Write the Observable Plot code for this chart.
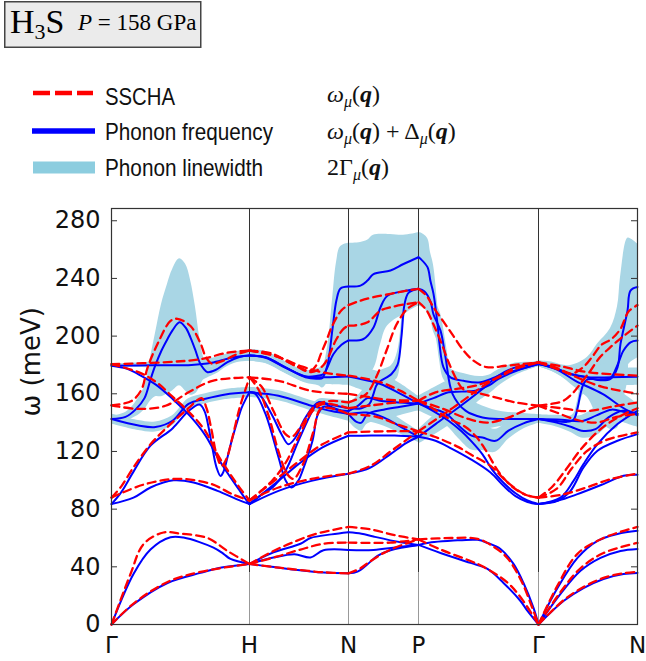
<!DOCTYPE html>
<html><head><meta charset="utf-8">
<script src="https://cdn.jsdelivr.net/npm/d3@7"></script>
<script src="https://cdn.jsdelivr.net/npm/@observablehq/plot@0.6"></script>
<style>
body{margin:0;background:#fff;}
#wrap{position:relative;width:646px;height:661px;overflow:hidden;background:#fff;}
#head{position:absolute;left:0;top:0;}
#chart{position:absolute;left:0;top:190px;}
</style></head>
<body><div id="wrap">
<svg id="head" width="646" height="190" xmlns="http://www.w3.org/2000/svg">
  <rect x="4.75" y="1.75" width="196" height="45.5" fill="#ebebeb" stroke="#444" stroke-width="1.5"/>
  <text x="10" y="33" font-family="Liberation Serif, serif" font-size="34">H<tspan font-size="22" dy="6">3</tspan><tspan dy="-6">S</tspan></text>
  <text x="78" y="30" font-family="Liberation Serif, serif" font-size="23"><tspan font-style="italic">P</tspan> = 158 GPa</text>
  <line x1="33" x2="93" y1="93" y2="93" stroke="#ff0000" stroke-width="4.5" stroke-dasharray="17,5"/>
  <line x1="32" x2="95" y1="131" y2="131" stroke="#0000ff" stroke-width="5.5"/>
  <rect x="33" y="161.5" width="62" height="12" fill="#8ccddf"/>
  <g font-family="Liberation Sans, Arial, sans-serif" font-size="24" fill="#111">
    <text x="105" y="105" textLength="70" lengthAdjust="spacingAndGlyphs">SSCHA</text>
    <text x="105" y="139.5" textLength="168" lengthAdjust="spacingAndGlyphs">Phonon frequency</text>
    <text x="105" y="176" textLength="158" lengthAdjust="spacingAndGlyphs">Phonon linewidth</text>
  </g>
  <g font-family="Liberation Serif, serif" font-size="24" fill="#111">
    <text x="327" y="102"><tspan font-style="italic">ω</tspan><tspan font-style="italic" font-size="16" dy="5">μ</tspan><tspan dy="-5">(</tspan><tspan font-style="italic" font-weight="bold">q</tspan>)</text>
    <text x="327" y="139"><tspan font-style="italic">ω</tspan><tspan font-style="italic" font-size="16" dy="5">μ</tspan><tspan dy="-5">(</tspan><tspan font-style="italic" font-weight="bold">q</tspan>) + Δ<tspan font-style="italic" font-size="16" dy="5">μ</tspan><tspan dy="-5">(</tspan><tspan font-style="italic" font-weight="bold">q</tspan>)</text>
    <text x="327" y="175">2Γ<tspan font-style="italic" font-size="16" dy="5">μ</tspan><tspan dy="-5">(</tspan><tspan font-style="italic" font-weight="bold">q</tspan>)</text>
  </g>
</svg>
<div id="chart"></div>
</div>
<script>
// high-symmetry points along the path (arbitrary path units)
const symX = [0, 138, 237, 307, 427, 526];
const symLabels = ["Γ", "H", "N", "P", "Γ", "N"];
const yTicks = [0, 40, 80, 120, 160, 200, 240, 280];
const yMax = 288.5;
const acousticSplit = 36;

// Each band: [q, ω (meV), Γ half-linewidth (meV, optional)]
// ---------- Γ -> H ----------
const blueGH = [
  [[0,0],[22,14],[56,28.8],[89,35.8],[110,39.5],[138,42]],
  [[0,0],[22,35],[39,52],[59,60.5],[72,60.3],[102,53.3],[112,49],[119,45.5],[138,42]],
  [[0,179.5,1],[40,179.8,2],[80,180,3],[100,181.5,3],[120,185,3.5],[138,186.5,4]],
  [[0,142.5,2],[14,144,3],[24,149,5],[33,157,8],[39,170,15],[44,180,22],[50,190,32],[56,198,38],[61,204,42],[68,209.6,44],[74,206,44],[79,199,40],[84,190,30],[88,182,18],[92,177.5,8],[96,175,4],[104,176.5,3],[116,182,3],[128,185.5,3.5],[138,186.5,4]],
  [[0,142.5,3.5],[27,138,3.5],[44,137,3.5],[61,141.3,3.5],[77,153,3.5],[94,156.5,3.5],[114,159.5,3.5],[138,161,3.5]],
  [[0,83.5],[10,92],[22,106],[39,124],[61,136],[77,148],[88,152.5],[93,148],[97,137],[101,122],[105,109],[109,103],[112,106],[116,116],[120,127],[125,139],[130,150],[134,156],[138,161]],
  [[0,179.5],[15,177.5],[27,173.5],[45,166],[61,156.5],[78,145],[94,131],[106,116],[117,104],[127,94],[133,88],[138,83.5]],
  [[0,83.5],[22,88],[39,95],[62,100],[82,98.5],[106,92.7],[125,87],[138,83.5]]
];
const redGH = [
  [[0,0],[22,14.5],[56,29.5],[89,36.5],[138,42]],
  [[0,0],[19,35],[32,55.7],[52,63.8],[69,63],[96,60],[116,51],[138,42]],
  [[0,180.5],[56,182],[89,184],[116,188.5],[138,190]],
  [[0,152],[20,155],[30,163],[36,178],[46,194.5],[59,210.5],[66,212],[79,207],[89,195],[94,186],[100,181],[110,182.5],[124,187],[138,190]],
  [[0,152],[27,149.5],[54,151.7],[77,161],[101,169],[138,171.4]],
  [[0,88],[10,96],[22,109],[39,125],[56,137],[77,150],[90,157],[95,150],[100,135],[105,118],[110,110],[115,115],[121,130],[128,150],[134,163],[138,171.4]],
  [[0,180.5],[27,175],[45,168],[61,158],[78,147],[94,134],[106,118],[117,106],[127,96],[138,86]],
  [[0,88],[32,97],[66,101],[99,97.6],[122,90],[138,86]]
];
// ---------- H -> N ----------
const blueHN = [
  [[138,42],[160,40],[179,38.3],[212,36],[237,35.5]],
  [[138,42],[162,46.4],[183,48.7],[199,46.5],[212,51.5],[237,51.7]],
  [[138,42],[162,50],[189,56],[199,60],[220,62.5],[237,64]],
  [[138,186.5,4],[154,185.3,4],[174,178.3,4],[194,171.4,4],[207,170.5,5],[211,171,7],[216,180,12],[221,205,20],[225,225,26],[229,233,29],[237,234.4,30]],
  [[138,186.5,4],[154,185.3,4],[174,178.3,4],[194,172,4],[206,172.5,5],[212,173.7,6],[222,187.6,15],[230,194,22],[237,197,25]],
  [[138,186.5,4],[154,185,4],[174,178,4],[194,172,4],[214,171.5,5],[237,172,6]],
  [[138,161,3.5],[167,158.7,3.5],[200,151.7,3.5],[220,148,4],[237,146,5]],
  [[138,161],[147,160],[160,146],[170,132],[177,125],[184,129.7],[194,143.6],[207,154,2],[221,150.5,3],[237,146,4]],
  [[138,161],[144,159.8],[154,146],[167,116],[174,100],[180,95],[187,100],[191,106.6],[201,127.4],[206,145],[212,151,2],[225,149,4],[237,148,5]],
  [[138,83.5],[150,90],[161,95],[174,106.6],[187,127.4],[201,148.2],[207,154,2],[222,152,4],[237,150,5]],
  [[138,83.5],[167,99.6],[187,111.2],[211,122.8],[237,130.9]],
  [[138,83.5],[167,92.7],[200,99.6],[237,104.5]]
];
const redHN = [
  [[138,42],[160,40],[179,38.5],[212,36.2],[237,35.5]],
  [[138,42],[165,47],[189,52],[212,56],[237,56.8]],
  [[138,42],[162,51],[185,58],[205,63],[237,67.7]],
  [[138,190],[160,188],[180,181],[199,176],[205,180],[209,187],[215,197],[220,206],[230,218],[237,221.5]],
  [[138,190],[165,186],[185,179],[200,175],[212,180],[225,198],[232,205],[237,207.3]],
  [[138,190],[165,186],[190,179],[214,174.5],[237,172.6]],
  [[138,171.4],[167,169],[200,162],[237,160]],
  [[138,171.4],[150,165],[162,148],[174,132],[180,130],[190,138],[204,152],[220,155],[237,154]],
  [[138,171.4],[147,163],[157,145],[167,120],[176,104],[182,101],[192,112],[202,134],[210,150],[237,146]],
  [[138,86],[150,93],[161,100],[174,112],[187,130],[201,148],[212,153],[237,150]],
  [[138,86],[167,102],[187,113],[211,125],[237,133.2]],
  [[138,86],[167,95],[200,101],[237,104.7]]
];
// ---------- N -> P ----------
const blueNP = [
  [[237,35.5],[246,36.7],[256,41.8],[266,47.6],[279,51.5],[307,55.2]],
  [[237,51.7],[262,51.7],[285,53.5],[307,55.2]],
  [[237,64],[250,63],[262,61],[289,57],[307,55.2]],
  [[237,234.4,30],[249,235,30],[256,238.5,28],[262,243,27],[279,245.5,25],[292,250,20],[307,254.7,17]],
  [[237,197,25],[252,198,27],[262,206,29],[269,220,26],[276,228,21],[296,231.6,15],[307,232.8,12]],
  [[237,172,6],[257,169,8],[269,166.8,8],[289,160,7],[307,153.3,5]],
  [[237,146,5],[245,140.5,5],[250,140,6],[256,146,7],[272,149,7],[289,151,6],[307,153.3,5]],
  [[237,146,4],[255,147,6],[272,143.6,6],[292,136,5],[307,130.2,4]],
  [[237,148,5],[247,152,7],[256,157,8],[270,155,7],[289,154,6],[307,153.3,5]],
  [[237,150,5],[250,150,6],[258,153,8],[262,160,9],[266,167,8],[280,173.7,6],[286,180,9],[290,200,10],[293,222,10],[297,230,10],[307,232.8,12]],
  [[237,130.9],[260,131],[283,131],[307,130.2]],
  [[237,104.5],[259,108.9],[279,118.2],[295,126],[307,130.2]]
];
const redNP = [
  [[237,35.5],[249,39],[256,42.5],[272,49.5],[290,55],[307,59]],
  [[237,56.8],[279,56.8],[307,59]],
  [[237,67.7],[259,66],[283,62],[307,59]],
  [[237,221.5],[249,224.6],[262,227],[279,229.3],[296,231.6],[307,232.8]],
  [[237,207.3],[242,207.3],[256,209.6],[269,217.7],[279,220],[296,222.4],[307,223.5]],
  [[237,154],[255,160],[265,172],[275,190],[285,208],[296,219],[307,223.5]],
  [[237,172.6],[269,168],[289,162],[307,155.2]],
  [[237,160],[255,158],[275,156],[307,155.2]],
  [[237,150],[260,152],[285,154],[307,155.2]],
  [[237,146],[265,144],[285,139],[307,134]],
  [[237,133.2],[272,134],[307,134]],
  [[237,104.7],[259,110],[279,120],[295,128],[307,134]]
];
// ---------- P -> Γ ----------
const bluePG = [
  [[307,55.2],[320,57],[339,58],[366,58.7],[376,56.6],[389,52.4],[402,42],[412,28.8],[422,11.5],[427,0]],
  [[307,55.2],[329,49.6],[359,42.7],[376,38.5],[392,28.8],[409,16.3],[416,9.4],[427,0]],
  [[307,254.7,17],[309,253.6,18],[316,247.8,20],[319,238,20],[322,229.3,20],[326,208.5,15],[328,194.6,11],[332,178.3,8],[339,171.4,6],[352,169,5],[369,168,4],[392,173.7,2],[427,180.7,1]],
  [[307,232.8,12],[313,231,12],[319,224,12],[322,215,12],[329,203.8,12],[334,185.3,12],[341,160,12],[354,148.3,10],[371,143.6,8],[391,142.5,5],[410,142.5,4],[427,142.5,3]],
  [[307,153.3,5],[322,157,7],[337,161,8],[350,161.5,8],[364,162.2,8],[378,166,6],[387,170.3,5],[405,176,3],[427,180.7,2]],
  [[307,130.2,5],[324,139,7],[347,150.5,8],[371,163.3,6],[387,172.6,4],[404,178.3,3],[427,180.7,1]],
  [[307,153.3,5],[320,150,6],[335,146,8],[347,138,9],[360,131,10],[371,129.7,9],[384,127.4,8],[397,134.4,6],[412,139.5,4],[427,142.5,3]],
  [[307,153.3],[321,148.3],[337,141.3],[350,134],[360,127],[371,118],[381,107],[391,99],[404,91],[416,86],[427,83.5]],
  [[307,130.2],[324,127.4],[340,122],[359,114.7],[379,105.4],[392,96.2],[404,89],[416,85],[427,83.5]]
];
const redPG = [
  [[307,59],[340,60],[366,59.4],[382,54],[396,46],[410,30],[420,13],[427,0]],
  [[307,59],[329,52],[359,44],[372,40],[396,29],[410,18],[427,0]],
  [[307,232.8],[315,228],[322,220],[332,210],[342,200],[352,190],[362,183],[375,178.5],[395,179.5],[427,181.8]],
  [[307,223.5],[315,218],[322,208],[330,195],[337,182],[345,170],[352,163],[370,160],[387,157],[404,154],[427,151.7]],
  [[307,155.2],[324,161],[344,163.3],[364,165.6],[387,171.4],[404,177.2],[427,181.8]],
  [[307,134],[324,142],[347,153],[371,165],[390,173],[405,178.5],[427,181.8]],
  [[307,155.2],[330,150],[355,143],[375,140],[395,143],[412,148],[427,151.7]],
  [[307,155.2],[321,150],[337,143],[354,137],[365,130],[375,120],[387,106],[400,96],[414,90],[427,88]],
  [[307,134],[324,130],[347,123],[359,118],[379,110],[397,98],[414,90],[427,88]]
];
// ---------- Γ -> N ----------
const blueGN = [
  [[427,0],[446,25.3],[466,46.2],[486,58],[506,62.8],[526,65]],
  [[427,0],[449,21.2],[469,37.2],[489,46.2],[509,51],[526,52.4]],
  [[427,0],[452,16.3],[472,25.3],[492,31.6],[512,35],[526,35.8]],
  [[427,180.7,2],[440,179,3],[459,173.7,4],[476,171.4,5],[500,171.5,6],[526,171.9,6]],
  [[427,180.7,2],[442,178,3],[459,173.7,6],[476,171.4,14],[486,169.5,25],[499,170.3,35],[506,178.3,42],[509,194.6,46],[516,217.7,50],[519,231.6,36],[526,234,30]],
  [[427,142.5,2],[440,141.5,3],[455,140.5,3],[462,142,4],[466,150,5],[469,160,6],[472,166.8,7],[476,170,8],[489,170,10],[499,171,12],[506,180,14],[512,190,15],[519,195.7,14],[526,196.9,12]],
  [[427,180.7,2],[445,177,3],[464,169,5],[491,159.9,10],[511,150.5,10],[526,145,8]],
  [[427,142.5,3],[450,142,3],[470,141,4],[485,145,6],[500,149,8],[515,147,7],[526,146,6]],
  [[427,142.5,3],[445,140,3],[460,137,4],[470,134.4,5],[484,135.5,5],[497,143.6,6],[511,148.2,6],[526,146,5]],
  [[427,83.5],[446,85.8],[466,90.4],[492,97.4],[512,103.1],[526,103.8]],
  [[427,83.5],[446,85.8],[459,92.7],[472,108.9],[486,120.5],[506,127.4],[526,132]],
  [[427,83.5],[449,88],[462,99.6],[472,111.2],[486,125.1],[506,139],[526,148.2]]
];
const redGN = [
  [[427,0],[446,27],[466,49],[492,60],[526,67.7]],
  [[427,0],[449,22.5],[469,39],[492,49.6],[526,56.6]],
  [[427,0],[452,16.8],[472,26],[492,32.3],[512,35.5],[526,36.5]],
  [[427,181.8],[450,179],[476,175],[526,172.6]],
  [[427,181.8],[445,178],[460,174],[471,178],[480,185],[490,194],[500,198],[509,205],[517,217],[526,221.5]],
  [[427,151.7],[440,153],[452,155.2],[462,161],[470,168],[478,175],[488,185],[500,193],[512,200],[526,207.3]],
  [[427,181.8],[450,176],[470,170],[490,165],[510,162],[526,160]],
  [[427,151.7],[450,150],[475,148],[500,151],[526,154]],
  [[427,151.7],[445,147],[465,142],[485,140],[505,144],[526,146]],
  [[427,88],[450,90],[475,95],[500,101],[526,104.7]],
  [[427,88],[445,94],[460,108],[475,120],[495,128],[526,133.2]],
  [[427,88],[440,95],[455,108],[470,122],[490,136],[510,145],[526,150]]
];

function toRows(segments, tag) {
  const out = [];
  segments.forEach((bands, si) => bands.forEach((band, bi) => band.forEach(p =>
    out.push({q: p[0], w: p[1], g: p[2] || 0, id: `${tag}-${si}-${bi}`}))));
  return out;
}
const blueRows = toRows([blueGH, blueHN, blueNP, bluePG, blueGN], "b");
const redRows = toRows([redGH, redHN, redNP, redPG, redGN], "r");
const widthIds = new Set(blueRows.filter(d => d.g > 0).map(d => d.id));
const widthRows = blueRows.filter(d => widthIds.has(d.id));
const labelOf = new Map(symX.map((x, i) => [x, symLabels[i]]));
const inner = symX.slice(1, -1);

const chart = Plot.plot({
  width: 646, height: 471,
  marginTop: 18, marginBottom: 37, marginLeft: 111, marginRight: 9,
  style: {fontFamily: "DejaVu Sans, sans-serif", color: "#111", background: "transparent"},
  x: {domain: [symX[0], symX[symX.length - 1]]},
  y: {domain: [0, yMax]},
  marks: [
    Plot.areaY(widthRows, {x: "q", y1: d => d.w - d.g, y2: d => d.w + d.g, z: "id", fill: "#a9d6e5", curve: "catmull-rom"}),
    Plot.ruleX(inner, {y1: acousticSplit, y2: yMax, stroke: "#333", strokeWidth: 1}),
    Plot.ruleX(inner, {y1: 0, y2: acousticSplit, stroke: "#999", strokeWidth: 1}),
    Plot.line(blueRows, {x: "q", y: "w", z: "id", stroke: "#0000ff", strokeWidth: 2, curve: "catmull-rom"}),
    Plot.line(redRows, {x: "q", y: "w", z: "id", stroke: "#ff0000", strokeWidth: 2.3, strokeDasharray: "8,5", curve: "catmull-rom"}),
    Plot.frame({stroke: "#333", strokeWidth: 1.2}),
    Plot.ruleY(yTicks, {insetRight: 520, stroke: "#333"}),
    Plot.ruleY(yTicks, {insetLeft: 520, stroke: "#333"}),
    Plot.axisY(yTicks, {tickSize: 0, tickPadding: 11, fontSize: 24, label: null}),
    Plot.axisX(symX, {tickSize: 0, tickPadding: 12, fontSize: 23, label: null, tickFormat: d => labelOf.get(d)}),
    Plot.text(["ω (meV)"], {frameAnchor: "left", rotate: -90, dx: -80, fontSize: 26})
  ]
});
document.getElementById("chart").appendChild(chart);
</script>
</body></html>
